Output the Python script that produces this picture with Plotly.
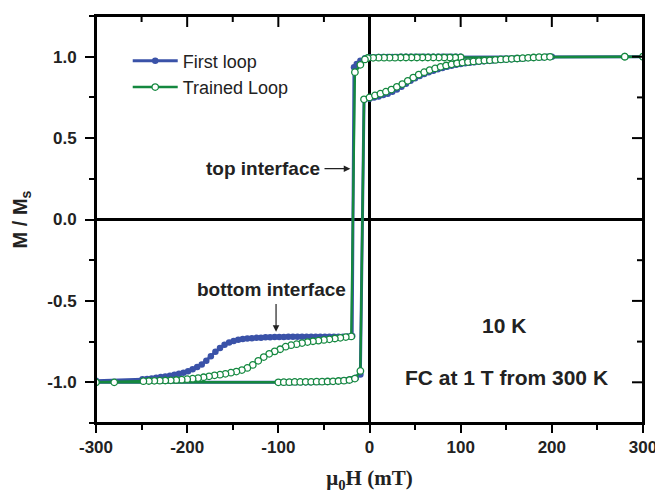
import plotly.graph_objects as go

# ---------------- data ----------------
# First loop: descending branch (+300 -> -300) followed by ascending branch (-300 -> +300)
first_H = [300, 280, 100, 95, 90, 85, 80, 75, 70, 65, 60, 55, 50, 45, 40, 35, 30, 25, 20, 15, 10, 5, 0,
           -5, -10, -14, -17,
           -19, -24, -29, -34, -39, -44, -49, -54, -59, -64, -69, -74, -79, -84, -89, -94, -99, -104,
           -109, -114, -119, -124, -129, -134, -139, -144, -149, -154, -159, -164, -169, -174, -179,
           -184, -189, -194, -199, -204, -209, -214, -219, -224, -229, -234, -239, -244, -249, -300,
           -300, -100, -95, -90, -85, -80, -75, -70, -65, -60, -55, -50, -45, -40, -35, -30, -25, -20,
           -15, -10,
           -6, 0, 5, 10, 15, 20, 25, 30, 35, 40, 45, 50, 55, 60, 65, 70, 75, 80, 85, 90, 95, 100,
           105, 110, 115, 120, 125, 130, 135, 140, 145, 150, 155, 160, 165, 170, 175, 180, 185, 190,
           195, 200, 280, 300]
first_M = [1.0, 1.0, 1.0, 1.0, 1.0, 1.0, 1.0, 1.0, 1.0, 1.0, 1.0, 1.0, 0.999, 0.999, 0.999, 0.999,
           0.998, 0.998, 0.998, 0.998, 0.998, 0.997, 0.996,
           0.99, 0.975, 0.955, 0.935,
           -0.715, -0.718, -0.72, -0.72, -0.72, -0.72, -0.72, -0.72, -0.72, -0.72, -0.72, -0.72,
           -0.72, -0.72, -0.72, -0.721, -0.722, -0.722, -0.723, -0.724, -0.726, -0.727, -0.729,
           -0.731, -0.734, -0.739, -0.746, -0.756, -0.77, -0.79, -0.812, -0.84, -0.868, -0.89,
           -0.906, -0.92, -0.932, -0.941, -0.948, -0.954, -0.96, -0.964, -0.968, -0.972, -0.976,
           -0.979, -0.982, -0.99,
           -1.0, -1.0, -1.0, -1.0, -1.0, -1.0, -1.0, -0.999, -0.999, -0.998, -0.998, -0.997, -0.996,
           -0.995, -0.993, -0.99, -0.987, -0.982, -0.972, -0.952,
           0.735, 0.742, 0.749, 0.756, 0.764, 0.773, 0.784, 0.798, 0.815, 0.834, 0.852, 0.867,
           0.881, 0.893, 0.904, 0.914, 0.923, 0.931, 0.938, 0.944, 0.95, 0.955, 0.959, 0.963,
           0.966, 0.969, 0.972, 0.975, 0.977, 0.979, 0.981, 0.983, 0.985, 0.987, 0.989, 0.991,
           0.993, 0.995, 0.996, 0.997, 1.0, 1.0]

# Trained loop: descending branch then ascending branch
trained_H = [300, 280, 100, 94, 88, 82, 76, 70, 64, 58, 52, 46, 40, 34, 28, 22, 16, 10, 4, -2,
             -5, -10, -16,
             -20, -26, -32, -38, -44, -50, -56, -62, -68, -74, -80, -86, -92, -98, -104, -110,
             -116, -122, -128, -134, -140, -146, -152, -158, -164, -170, -176, -182, -188, -194,
             -200, -206, -212, -218, -224, -230, -236, -242, -248, -280, -300,
             -300, -100, -94, -88, -82, -76, -70, -64, -58, -52, -46, -40, -34, -28, -22, -16, -10,
             -6, 0, 6, 12, 18, 24, 30, 36, 42, 48, 54, 60, 66, 72, 78, 84, 90, 96, 102, 108, 114,
             120, 126, 132, 138, 144, 150, 156, 162, 168, 174, 180, 186, 192, 198, 280, 300]
trained_M = [1.0, 1.0, 0.996, 0.995, 0.995, 0.995, 0.995, 0.995, 0.995, 0.995, 0.995, 0.995,
             0.995, 0.995, 0.994, 0.994, 0.994, 0.994, 0.993, 0.992,
             0.983, 0.95, 0.905,
             -0.718, -0.722, -0.727, -0.731, -0.736, -0.74, -0.744, -0.748, -0.753, -0.759,
             -0.766, -0.772, -0.781, -0.797, -0.81, -0.825, -0.845, -0.868, -0.893, -0.912,
             -0.925, -0.934, -0.941, -0.948, -0.953, -0.957, -0.963, -0.969, -0.974, -0.978,
             -0.981, -0.984, -0.986, -0.988, -0.989, -0.99, -0.991, -0.992, -0.993, -1.0, -1.0,
             -1.0, -1.0, -0.999, -0.999, -0.998, -0.998, -0.997, -0.997, -0.996, -0.996, -0.995,
             -0.994, -0.992, -0.99, -0.986, -0.977, -0.93,
             0.738, 0.75, 0.762, 0.773, 0.785, 0.798, 0.815, 0.832, 0.852, 0.872, 0.89, 0.905,
             0.918, 0.928, 0.938, 0.946, 0.953, 0.959, 0.964, 0.967, 0.971, 0.973, 0.976, 0.978,
             0.98, 0.983, 0.985, 0.987, 0.989, 0.991, 0.993, 0.995, 0.997, 0.998, 0.999, 1.0, 1.0]

x_ticks = [-300, -200, -100, 0, 100, 200, 300]
x_ticklabels = ["-300", "-200", "-100", "0", "100", "200", "300"]
y_ticks = [-1.0, -0.5, 0.0, 0.5, 1.0]
y_ticklabels = ["-1.0", "-0.5", "0.0", "0.5", "1.0"]

BLUE = "#3A52A8"
GREEN = "#14883F"
SANS = "Liberation Sans, Arial, sans-serif"
SERIF = "Liberation Serif, Times New Roman, serif"

fig = go.Figure()
fig.add_trace(go.Scatter(
    x=first_H, y=first_M, mode="lines+markers", name="First loop",
    line=dict(color=BLUE, width=3),
    marker=dict(symbol="circle", size=6.5, color=BLUE, line=dict(width=0)),
))
fig.add_trace(go.Scatter(
    x=trained_H, y=trained_M, mode="lines+markers", name="Trained Loop",
    line=dict(color=GREEN, width=2.4),
    marker=dict(symbol="circle", size=6.5, color="white", line=dict(color=GREEN, width=1.3)),
))

tickfont = dict(family=SANS, size=17, color="#222222", weight="bold")

# the page body has an 8px margin, so the figure is 8px smaller and margins shifted
fig.update_layout(
    width=655, height=494,
    margin=dict(l=88, r=18, t=6, b=79),
    paper_bgcolor="white", plot_bgcolor="white",
    showlegend=True,
    legend=dict(x=0.058, y=0.935, xanchor="left", yanchor="top",
                bgcolor="rgba(0,0,0,0)", borderwidth=0,
                font=dict(family=SANS, size=18, color="#222222"),
                itemwidth=45, tracegroupgap=0),
    xaxis=dict(
        range=[-300, 300], tickmode="array", tickvals=x_ticks, ticktext=x_ticklabels,
        ticks="outside", ticklen=8, tickwidth=2, tickcolor="black",
        showline=True, linewidth=2, linecolor="black", mirror=True,
        showgrid=False, zeroline=True, zerolinecolor="black", zerolinewidth=2.5,
        tickfont=tickfont,
        minor=dict(dtick=50, tick0=0, ticks="outside", ticklen=5, tickwidth=2, tickcolor="black",
                   showgrid=False),
        title=dict(text="μ<sub>0</sub>H (mT)",
                   font=dict(family=SERIF, size=21, color="#222222", weight="bold"),
                   standoff=14),
    ),
    yaxis=dict(
        range=[-1.25, 1.25], tickmode="array", tickvals=y_ticks, ticktext=y_ticklabels,
        ticks="outside", ticklen=9, tickwidth=2, tickcolor="black",
        showline=True, linewidth=2, linecolor="black", mirror=True,
        showgrid=False, zeroline=True, zerolinecolor="black", zerolinewidth=2.5,
        tickfont=tickfont, ticklabelstandoff=5,
        minor=dict(dtick=0.25, tick0=0, ticks="outside", ticklen=5, tickwidth=2, tickcolor="black",
                   showgrid=False),
        title=dict(text="M / M<sub>s</sub>",
                   font=dict(family=SANS, size=20, color="#222222", weight="bold"),
                   standoff=14),
    ),
)

# plot frame and inward-pointing ticks on the top and right edges (derived from tick lists)
fig.add_shape(type="rect", xref="paper", yref="paper", x0=0, x1=1, y0=0, y1=1,
              line=dict(color="black", width=2), fillcolor="rgba(0,0,0,0)", layer="above")
x_minor = [(a + b) / 2 for a, b in zip(x_ticks[:-1], x_ticks[1:])]
y_minor = [(a + b) / 2 for a, b in zip(y_ticks[:-1], y_ticks[1:])]
for xv, ln in [(v, 11) for v in x_ticks] + [(v, 6) for v in x_minor]:
    fig.add_shape(type="line", xref="x", yref="paper", x0=xv, x1=xv,
                  ysizemode="pixel", yanchor=1, y0=0, y1=-ln,
                  line=dict(color="black", width=2), layer="above")
for yv, ln in [(v, 11) for v in y_ticks] + [(v, 6) for v in y_minor]:
    fig.add_shape(type="line", xref="paper", yref="y", y0=yv, y1=yv,
                  xsizemode="pixel", xanchor=1, x0=0, x1=-ln,
                  line=dict(color="black", width=2), layer="above")

annfont = dict(family=SANS, size=19, color="#222222", weight="bold")
bigfont = dict(family=SANS, size=21, color="#222222", weight="bold")

# "top interface" label + arrow
fig.add_annotation(x=-50, y=0.312, xref="x", yref="y", text="top interface",
                   showarrow=False, xanchor="right", yanchor="middle", font=annfont, xshift=-2)
fig.add_annotation(x=-21, y=0.312, xref="x", yref="y", ax=-51, ay=0.312, axref="x", ayref="y",
                   text="", showarrow=True, arrowhead=2, arrowsize=1.1, arrowwidth=1.2,
                   arrowcolor="#222222")
# "bottom interface" label + arrow
fig.add_annotation(x=-107, y=-0.43, xref="x", yref="y", text="bottom interface",
                   showarrow=False, xanchor="center", yanchor="middle", font=annfont)
fig.add_annotation(x=-102.5, y=-0.69, xref="x", yref="y", ax=-102.5, ay=-0.51,
                   axref="x", ayref="y", text="", showarrow=True, arrowhead=2,
                   arrowsize=1.1, arrowwidth=1.2, arrowcolor="#222222")
# condition labels
fig.add_annotation(x=147, y=-0.654, xref="x", yref="y", text="10 K",
                   showarrow=False, font=bigfont)
fig.add_annotation(x=150, y=-0.973, xref="x", yref="y", text="FC at 1 T from 300 K",
                   showarrow=False, font=bigfont)

fig.write_html("out.html")
